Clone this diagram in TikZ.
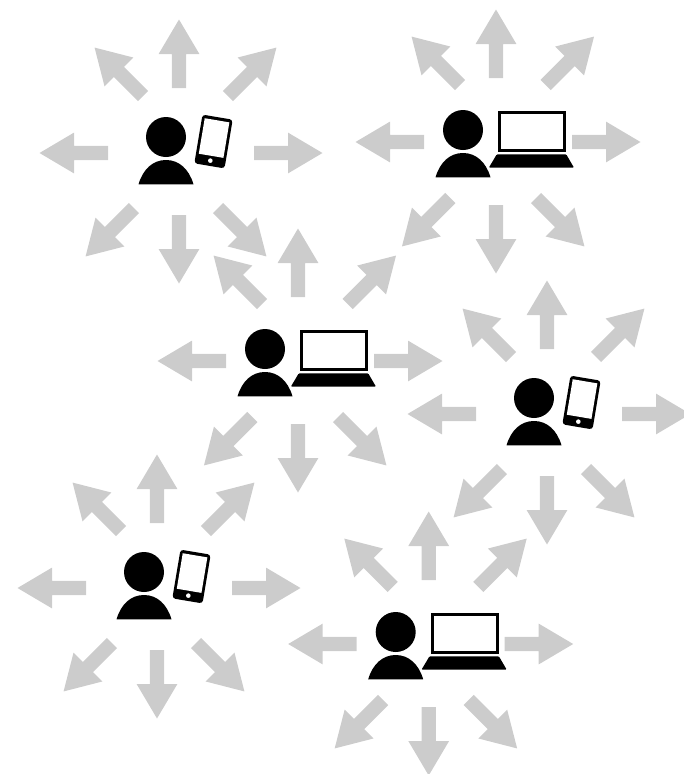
\documentclass[tikz,border=0pt]{standalone}
\tikzset{
  x=1pt,y=-1pt,
  arrowshape/.style={fill=arrowgrey},
  ink/.style={fill=black},
}
\definecolor{arrowgrey}{HTML}{CCCCCC}
\newcommand{\grarrow}[3]{% x, y of tail, visual angle
  \fill[arrowshape,shift={(#1,#2)},rotate=#3]
    (0,-7.2) -- (34,-7.2) -- (34,-20.4) -- (68.5,0) -- (34,20.4) -- (34,7.2) -- (0,7.2) -- cycle;}
\newcommand{\person}{%
  \fill[ink] (0,0) circle[radius=20];
  \fill[ink] (-27.5,47.3) .. controls (-23,32) and (-13,23) .. (0,23)
     .. controls (13,23) and (23,32) .. (27.5,47.3) -- cycle;}
\newcommand{\phonegroup}[2]{%
  \begin{scope}[shift={(#1,#2)}]
    \person
    \begin{scope}[shift={(47.5,4.5)},rotate=-9.5]
      \fill[ink,rounded corners=3pt] (-15.3,-24.7) rectangle (15.3,24.7);
      \fill[white] (-12.5,-21.5) rectangle (12.5,14.5);
      \fill[white] (0,19.4) circle[radius=2.3];
    \end{scope}
    \grarrow{13}{-49}{90}
    \grarrow{13}{78}{-90}
    \grarrow{-58}{16}{180}
    \grarrow{88}{16}{0}
    \grarrow{62}{-41}{45}
    \grarrow{-23}{-41}{135}
    \grarrow{52}{71}{-45}
    \grarrow{-32}{71}{-135}
  \end{scope}}
\newcommand{\laptopgroup}[2]{%
  \begin{scope}[shift={(#1,#2)}]
    \person
    \fill[ink] (34.8,-19.3) rectangle (103.2,22.3);
    \fill[white] (37.9,-16.2) rectangle (100.1,19.2);
    \fill[ink,rounded corners=1pt] (33.8,24.3) -- (103.2,24.3) -- (111,37.7) -- (25.8,37.7) -- cycle;
    \grarrow{33}{-52}{90}
    \grarrow{33}{75}{-90}
    \grarrow{-39}{12}{180}
    \grarrow{109}{12}{0}
    \grarrow{82.6}{-45}{45}
    \grarrow{-3}{-45}{135}
    \grarrow{73}{68}{-45}
    \grarrow{-12.6}{68}{-135}
  \end{scope}}
\begin{document}
\begin{tikzpicture}
  \useasboundingbox (0,0) rectangle (684,774);
  \phonegroup{166}{137}
  \laptopgroup{463}{130}
  \laptopgroup{265}{349}
  \phonegroup{534}{398}
  \phonegroup{144}{572}
  \laptopgroup{395.7}{632}
\end{tikzpicture}
\end{document}
